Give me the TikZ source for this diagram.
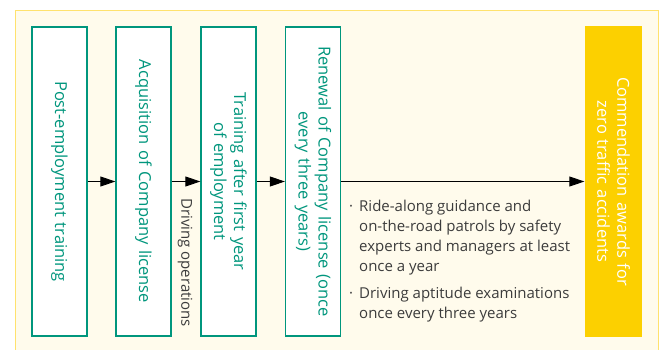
\documentclass[tikz,border=0pt]{standalone}
\usepackage{fontspec}
\setmainfont{Open Sans}
\usetikzlibrary{arrows.meta, positioning}

\definecolor{brandgreen}{RGB}{0,150,125}
\definecolor{awardyellow}{RGB}{252,208,0}
\definecolor{framecream}{RGB}{255,251,236}
\definecolor{frameline}{RGB}{255,226,110}
\definecolor{notegray}{RGB}{60,60,60}

\tikzset{
  stage/.style={draw=brandgreen, line width=1.3pt, fill=white, rotate=-90,
    minimum width=309pt, minimum height=55pt, inner sep=0pt,
    text width=304pt, align=center, text=brandgreen, font=\fontsize{16.5}{20}\selectfont},
  award/.style={stage, draw=none, fill=awardyellow, text=white,
    minimum width=311pt, minimum height=57pt},
  flow/.style={-{Triangle[length=15pt,width=10pt]}, line width=0.9pt}
}

\begin{document}
\begin{tikzpicture}[x=1pt, y=-1pt]

\useasboundingbox (0,0) rectangle (661,349);

% outer frame
\draw[frameline, fill=framecream, line width=0.8pt] (15,10) rectangle (658,360);

% steps (text runs top to bottom)
\node[stage] (post) at (59.5,181.5) {Post-employment training};
\node[stage] (acq) at (143.5,181.5) {Acquisition of Company license};
\node[stage] (first) at (228.5,181.5) {Training after first year\\of employment};
\node[stage] (renew) at (313,181.5) {Renewal of Company license (once\\every three years)};
\node[award] (zero) at (613.5,181.5) {Commendation awards for\\zero traffic accidents};

% connectors
\draw[flow] (post) -- (acq);
\draw[flow] (acq) -- (first);
\draw[flow] (first) -- (renew);
\draw[flow] (renew) -- (zero);

% notes
\node[rotate=-90, anchor=west, inner sep=0pt, text=notegray,
  font=\fontsize{15}{15}\selectfont] (drive) at (185,198) {Driving operations};
\node[anchor=north west, inner sep=0pt, align=left, text=notegray,
  font=\fontsize{15}{20}\selectfont] (checks) at (349,200)
  {\makebox[10pt][l]{·}Ride-along guidance and\\
   \hspace*{10pt}on-the-road patrols by safety\\
   \hspace*{10pt}experts and managers at least\\
   \hspace*{10pt}once a year\\[7pt]
   \makebox[10pt][l]{·}Driving aptitude examinations\\
   \hspace*{10pt}once every three years};

\end{tikzpicture}
\end{document}
